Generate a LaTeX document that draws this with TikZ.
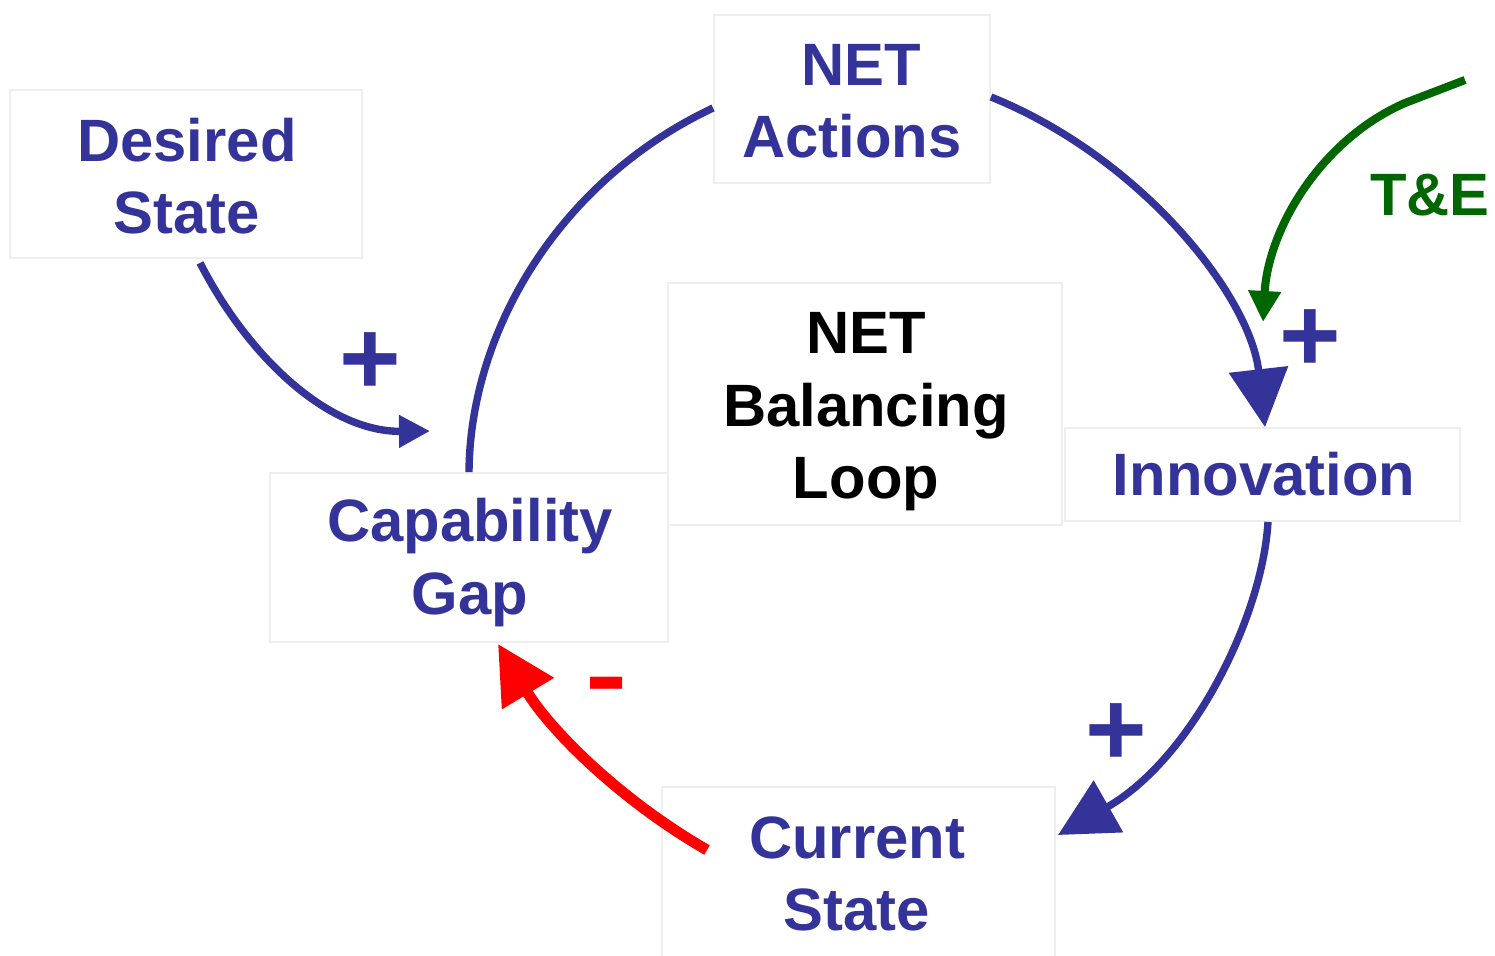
\documentclass[tikz,border=0pt]{standalone}
\usepackage{fontspec}
\usepackage{graphicx}
\setmainfont{Liberation Sans}
\usetikzlibrary{arrows.meta,calc}
\definecolor{cblue}{RGB}{51,51,153}
\definecolor{cgreen}{RGB}{0,102,0}
\definecolor{cred}{RGB}{255,0,0}
\definecolor{cedge}{RGB}{238,238,238}
\begin{document}
\begin{tikzpicture}[x=0.01cm,y=-0.01cm,
  box/.style={draw=cedge, line width=0.5pt, fill=white, inner sep=0pt},
  txt/.style={align=center, inner sep=0pt,
    font=\bfseries\fontsize{17}{20.6}\selectfont, text=cblue},
  flow/.style={draw=cblue, line width=2.1pt},
  redflow/.style={draw=cred, line width=3.1pt},
  greenflow/.style={draw=cgreen, line width=2.3pt},
  bigtip/.style={-{Triangle[length=0.58cm,width=0.58cm]}},
  smalltip/.style={-{Triangle[length=0.31cm,width=0.31cm]}},
  sign/.style={font=\bfseries\fontsize{30}{30}\selectfont, inner sep=0pt},
]
\useasboundingbox (0,0) rectangle (1495,955);
\fill[white] (0,0) rectangle (1495,955);

% boxes
\node[box, minimum width=3.52cm, minimum height=1.68cm] (ds) at (186,174) {};
\node[box, minimum width=2.76cm, minimum height=1.68cm] (na) at (852,99) {};
\node[box, minimum width=3.94cm, minimum height=2.42cm] (bl) at (865,404) {};
\node[box, minimum width=3.95cm, minimum height=0.93cm] (inn) at (1262.5,474.5) {};
\node[box, minimum width=3.98cm, minimum height=1.69cm] (cg) at (469,557.5) {};
\node[box, minimum width=3.93cm, minimum height=1.70cm] (cs) at (858.5,872) {};

% box texts
\node[txt] (dst) at (187,176) {Desired\\State};
\node[txt] (nat) at (852,101) {\hspace*{0.18cm}NET\\Actions};
\node[txt, text=black] (blt) at (866,412) {NET\\Balancing\\Loop};
\node[txt] (innt) at (1264,474.5) {Innovation};
\node[txt] (cgt) at (470,562.5) {Capability\\Gap};
\node[txt] (cst) at (857,874) {Current\\State};

% loop connectors
\draw[flow] ($(na.west)+(0,9)$) .. controls (560,180) and (470,330) .. (cg.north);
\draw[flow,bigtip] ($(na.east)+(0,-2)$) .. controls (1140,157) and (1250,295) .. ($(inn.north)+(2.5,0)$);
\draw[flow,bigtip] ($(inn.south)+(5.5,0)$) .. controls (1262,620) and (1190,760) .. ($(cs.east)+(2,-37)$);
\draw[flow,smalltip] ($(ds.south)+(14,4)$) .. controls (250,360) and (330,432) .. ($(cg.north)+(-39,-41)$);
\draw[redflow,bigtip] ($(cs.west)+(46,-22)$) .. controls (620,800) and (550,730) .. ($(cg.south)+(29,1)$);

% T&E input
\coordinate (g0) at (1465,80);
\coordinate (g1) at (1405,103);
\coordinate (g2) at (1263,322);
\draw[greenflow,smalltip] (g0) -- (g1) .. controls (1320,140) and (1268,230) .. (g2);

% labels
\node[sign, text=cblue] (p1) at (370,364) {+};
\node[sign, text=cblue] (p2) at (1310,341) {+};
\node[sign, text=cblue] (p3) at (1116,735) {+};
\node[font=\bfseries\fontsize{36}{36}\selectfont, text=cred, inner sep=0pt] (m1) at (607,693) {\scalebox{1}[0.8]{-}};
\node[font=\bfseries\fontsize{17}{20}\selectfont, text=cgreen] (te) at (1430,195) {T\&E};
\end{tikzpicture}
\end{document}
